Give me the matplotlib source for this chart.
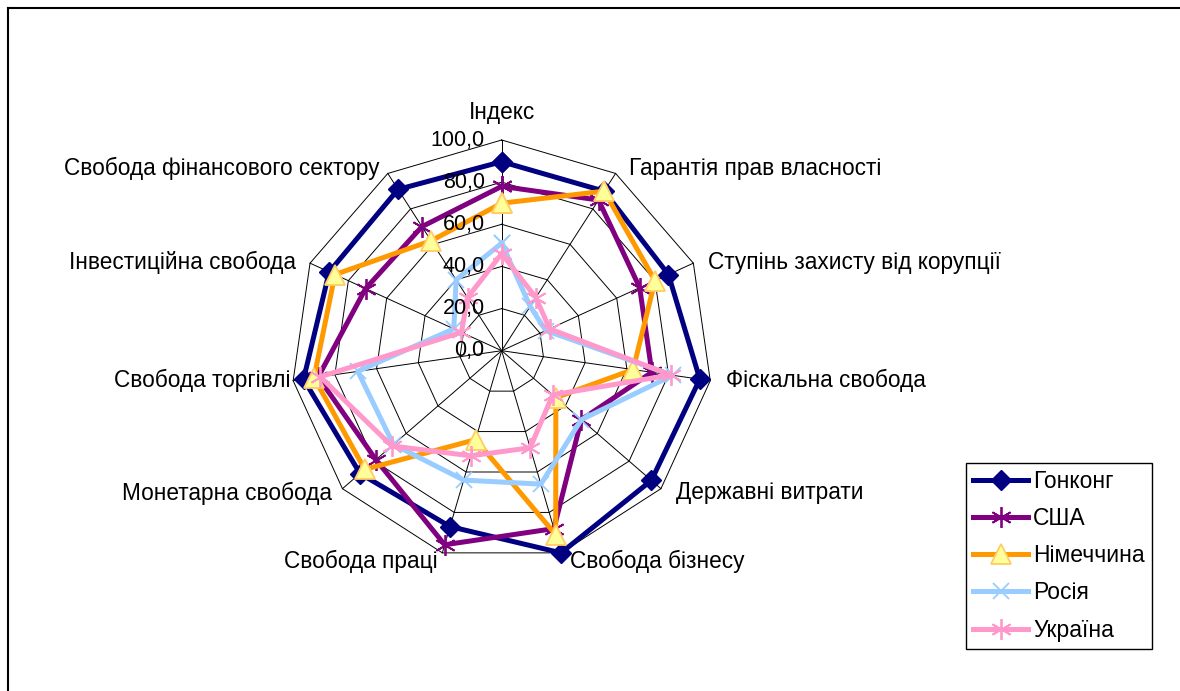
import numpy as np
import matplotlib
matplotlib.use("Agg")
import matplotlib.pyplot as plt
from matplotlib.lines import Line2D

plt.rcParams['font.family'] = ['Liberation Sans', 'DejaVu Sans']

categories = ["Індекс", "Гарантія прав власності", "Ступінь захисту від корупції",
              "Фіскальна свобода", "Державні витрати", "Свобода бізнесу",
              "Свобода праці", "Монетарна свобода", "Свобода торгівлі",
              "Інвестиційна свобода", "Свобода фінансового сектору"]
hongkong = [89.7, 90, 87, 95, 94, 100, 87, 89, 95, 90, 91]
usa      = [78, 85, 72, 72, 50, 88, 96, 79, 88, 71, 70]
germany  = [70, 90, 80, 63, 34, 91, 44, 86, 90, 87, 62]
russia   = [51, 25, 23, 82, 50, 66, 64, 68, 69, 25, 40]
ukraine  = [46, 30, 25, 81, 32, 48, 52, 69, 87, 21, 30]
series_names = ["Гонконг", "США", "Німеччина", "Росія", "Україна"]
r_ticks = [0, 20, 40, 60, 80, 100]
r_tick_labels = ["0,0", "20,0", "40,0", "60,0", "80,0", "100,0"]

W, H = 1180, 691
fig = plt.figure(figsize=(W / 100, H / 100), dpi=100)
fig.patch.set_facecolor("white")

cx, cy, R = 501.7, 691 - 350.7, 210.7
ax = fig.add_axes([(cx - R) / W, (cy - R) / H, 2 * R / W, 2 * R / H], projection="polar")
ax.set_theta_offset(np.pi / 2)
ax.set_theta_direction(-1)
ax.set_ylim(0, 100)
ax.set_xticks([])
ax.set_yticks([])
ax.grid(False)
ax.spines["polar"].set_visible(False)
ax.patch.set_alpha(0)

n = len(categories)
angles = np.arange(n) * 2 * np.pi / n
closed = np.append(angles, angles[0])

# grid rings and spokes
for r in r_ticks[1:]:
    ax.plot(closed, [r] * (n + 1), color="black", lw=0.7, clip_on=False, zorder=1)
for a in angles:
    ax.plot([a, a], [0, 100], color="black", lw=0.7, clip_on=False, zorder=1)

styles = [
    dict(color="#000080", marker="D", ms=10, mfc="#000080", mec="#000080", mew=1),
    dict(color="#800080", marker=(6, 2, 0), ms=15, mfc="#800080", mec="#800080", mew=1.3),
    dict(color="#FF9900", marker="^", ms=14, mfc="#FFFF99", mec="#FFCC66", mew=1.3),
    dict(color="#99CCFF", marker="x", ms=12, mfc="#99CCFF", mec="#99CCFF", mew=1.3),
    dict(color="#FF99CC", marker=(6, 2, 0), ms=15, mfc="#FF99CC", mec="#FF99CC", mew=1.3),
]
data = [hongkong, usa, germany, russia, ukraine]
handles = []
for i, (vals, st, name) in enumerate(zip(data, styles, series_names)):
    v = np.append(vals, vals[0])
    ln, = ax.plot(closed, v, lw=3.6, label=name, clip_on=False, zorder=3 + i,
                  solid_joinstyle="round", **st)
    handles.append(ln)

# radial tick labels
for r, lab in zip(r_ticks, r_tick_labels):
    ax.annotate(lab, xy=(0, r), xytext=(-17, 0), textcoords="offset pixels",
                ha="right", va="center", fontsize=15.5, zorder=10)

# category labels
label_pos = [
    (0, 28, "center"), (13, 5, "left"), (15, 1, "left"), (16, 0, "left"),
    (15, -4, "left"), (9, -9, "left"), (-5, -9, "right"), (-10, -5, "right"),
    (-3, 0, "right"), (-14, 1, "right"), (-8, 5, "right"),
]
for a, lab, (dx, dy, ha) in zip(angles, categories, label_pos):
    ax.annotate(lab, xy=(a, 100), xytext=(dx, dy), textcoords="offset pixels",
                ha=ha, va="center", fontsize=16.3, annotation_clip=False)

leg = fig.legend(handles=handles, loc="lower left",
                 bbox_to_anchor=(966 / W, 42 / H), borderaxespad=0,
                 fontsize=16.5, numpoints=1, handlelength=2.4, handletextpad=0.2,
                 labelspacing=0.62, borderpad=0.32, fancybox=False,
                 edgecolor="black", framealpha=1)
leg.get_frame().set_linewidth(1.0)

# outer border lines (top and left)
fig.add_artist(Line2D([8 / W, 1.0], [1 - 8 / H, 1 - 8 / H], color="black", lw=1.5,
                      transform=fig.transFigure))
fig.add_artist(Line2D([8 / W, 8 / W], [0, 1 - 8 / H], color="black", lw=1.5,
                      transform=fig.transFigure))

fig.savefig("out.png", dpi=100)
